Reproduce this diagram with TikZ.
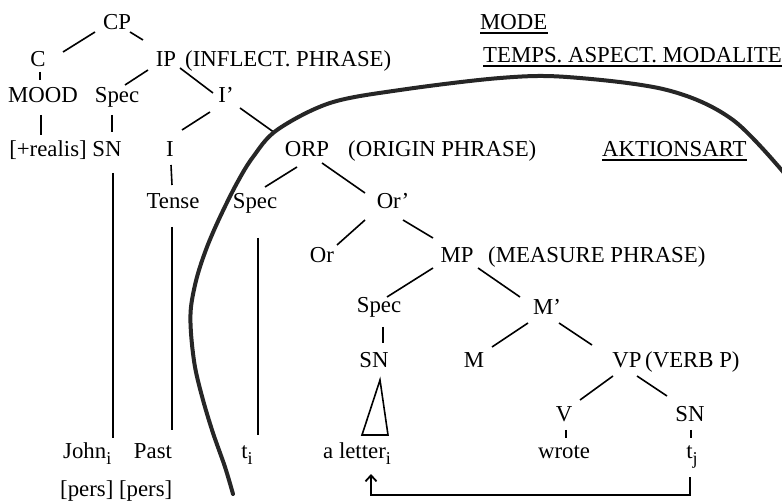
\documentclass[tikz,border=0pt]{standalone}
\usepackage{fontspec}
\setmainfont{Liberation Serif}
\usetikzlibrary{calc,arrows.meta}
% lowered index on a word (John_i, t_j, ...)
\newcommand\idx[1]{\raisebox{-6pt}{\fontsize{18}{18}\selectfont #1}}
\begin{document}
\begin{tikzpicture}[x=1pt,y=-1pt,
  lab/.style={inner sep=0pt,anchor=base,font=\fontsize{22.8}{27}\selectfont},
  labw/.style={lab,anchor=base west},
  edge/.style={line width=1.6pt},
  trunk/.style={line width=1.8pt},
  uline/.style={line width=1.5pt},
  boundary/.style={line width=4pt,line cap=round,color=black!85},
  move/.style={line width=1.8pt,-{Straight Barb[length=6pt,width=11pt,line width=1.8pt]}}]
\useasboundingbox (0,0) rectangle (782,502);

% ---- tree labels ----
\node[lab] (cp) at (117,30) {CP};
\node[lab] (c) at (38,67) {C};
\node[lab] (ip) at (166,67) {IP};
\node[labw] (ipl) at (185,67) {(INFLECT. PHRASE)};
\node[lab] (mood) at (43,103) {MOOD};
\node[lab] (spec1) at (117,103) {Spec};
\node[lab] (ibar) at (226,103) {I'};
\node[lab] (realis) at (48,157) {[+realis]};
\node[lab] (sn1) at (107,157) {SN};
\node[lab] (i) at (170,157) {I};
\node[lab] (orp) at (307,157) {ORP};
\node[labw] (orpl) at (348,157) {(ORIGIN PHRASE)};
\node[lab] (tense) at (173,209) {Tense};
\node[lab] (spec2) at (255,209) {Spec};
\node[lab] (orbar) at (393,209) {Or'};
\node[lab] (or) at (322,263) {Or};
\node[lab] (mp) at (457,263) {MP};
\node[labw] (mpl) at (488,263) {(MEASURE PHRASE)};
\node[lab] (spec3) at (379,313) {Spec};
\node[lab] (mbar) at (547,315) {M'};
\node[lab] (sn2) at (374,368) {SN};
\node[lab] (m) at (474,368) {M};
\node[lab] (vp) at (627,368) {VP};
\node[labw] (vpl) at (645,368) {(VERB P)};
\node[lab] (v) at (564,422) {V};
\node[lab] (sn3) at (690,422) {SN};
\node[lab] (wrote) at (564,458) {wrote};
\node[lab] (tj) at (692,458) {t\idx{j}};
\node[labw] (john) at (63,458) {John\idx{i}};
\node[lab] (past) at (153,458) {Past};
\node[lab] (ti) at (247,458) {t\idx{i}};
\node[labw] (aletter) at (323,458) {a letter\idx{i}};
\node[labw] (pers) at (60,496) {[pers] [pers]};

% ---- level headings ----
\node[labw] (mode) at (480,30) {MODE};
\node[labw] (tam) at (483,63) {TEMPS. ASPECT. MODALITE};
\node[labw] (akt) at (602,157) {AKTIONSART};
\foreach \h in {mode,tam,akt}
  \draw[uline] ($(\h.base west)+(0,3)$) -- ($(\h.base east)+(0,3)$);

% ---- branches ----
\draw[edge] ($(cp.base)+(-22,2)$) -- ($(c.base)+(25,-15)$);
\draw[edge] ($(cp.base)+(13,2)$) -- ($(ip.base)+(-23,-27)$);
\draw[edge] ($(c.base)+(2,5)$) -- ($(mood.base)+(-3,-23)$);
\draw[edge] ($(ip.base)+(-18,3)$) -- ($(spec1.base)+(8,-18)$);
\draw[edge] ($(ip.base)+(14,1)$) -- ($(ibar.base)+(-13,-10)$);
\draw[edge] ($(mood.base)+(-2,12)$) -- ($(realis.base)+(-7,-22)$);
\draw[edge] ($(spec1.base)+(-5,12)$) -- ($(sn1.base)+(5,-25)$);
\draw[edge] ($(ibar.base)+(-16,9)$) -- ($(i.base)+(12,-27)$);
\draw[edge] ($(ibar.base)+(14,5)$) -- ($(orp.base)+(-32,-24)$);
\draw[edge] ($(i.base)+(1,8)$) -- ($(tense.base)+(-1,-24)$);
\draw[edge] ($(orp.base)+(-10,10)$) -- ($(spec2.base)+(10,-22)$);
\draw[edge] ($(orp.base)+(15,6)$) -- ($(orbar.base)+(-28,-16)$);
\draw[edge] ($(orbar.base)+(-28,11)$) -- ($(or.base)+(15,-18)$);
\draw[edge] ($(orbar.base)+(10,11)$) -- ($(mp.base)+(-24,-25)$);
\draw[edge] ($(mp.base)+(-24,5)$) -- ($(spec3.base)+(8,-16)$);
\draw[edge] ($(mp.base)+(21,5)$) -- ($(mbar.base)+(-27,-18)$);
\draw[edge] ($(spec3.base)+(4,14)$) -- ($(sn2.base)+(9,-25)$);
\draw[edge] ($(mbar.base)+(-19,8)$) -- ($(m.base)+(18,-21)$);
\draw[edge] ($(mbar.base)+(12,8)$) -- ($(vp.base)+(-35,-23)$);
\draw[edge] ($(vp.base)+(-14,8)$) -- ($(v.base)+(16,-22)$);
\draw[edge] ($(vp.base)+(10,8)$) -- ($(sn3.base)+(-23,-26)$);
\draw[edge] ($(v.base)+(2,8)$) -- ($(wrote.base)+(2,-20)$);
\draw[edge] ($(sn3.base)+(1,8)$) -- ($(tj.base)+(-1,-20)$);

% long vertical branches down to the terminals
\draw[trunk] ($(sn1.base)+(6,16)$) -- ($(john.base west)+(50,-20)$);
\draw[trunk] ($(tense.base)+(-1,18)$) -- ($(past.base)+(19,-28)$);
\draw[trunk] ($(spec2.base)+(3,29)$) -- ($(ti.base)+(11,-23)$);

% roof over "a letter"
\draw[edge,line join=miter] ($(sn2.base)+(6,12)$) -- ($(aletter.base west)+(65,-23)$)
  -- ($(aletter.base west)+(39,-23)$) -- cycle;

% movement of the object
\draw[move] ($(tj.base)+(-2,19)$) |- ($(aletter.base west)+(48,37)$)
  -- ($(aletter.base west)+(48,16)$);

% domain boundary
\draw[boundary] plot[smooth,tension=0.55] coordinates {
  (233,494) (225,467) (213,433) (203,400) (195,367) (191,333) (191,307)
  (197,277) (207,247) (220,217) (237,183) (253,157) (277,130) (330,103)
  (400,90) (500,78) (567,77) (667,90) (733,120) (790,180)};
\end{tikzpicture}
\end{document}
